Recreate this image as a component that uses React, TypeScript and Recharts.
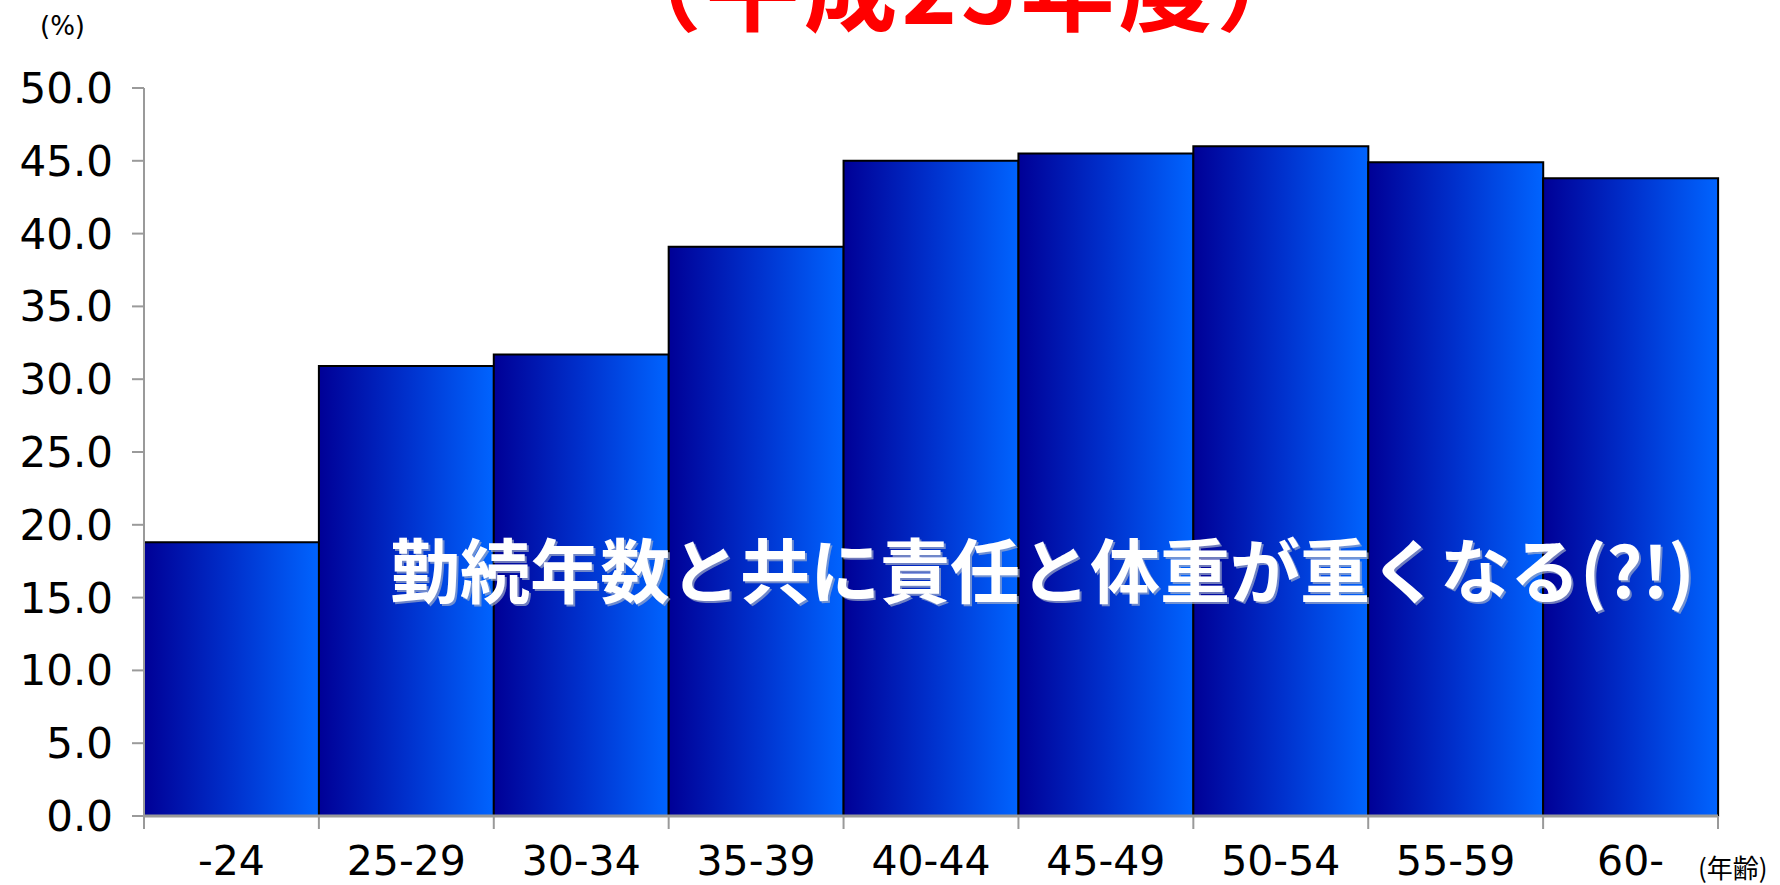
import React from 'react';
import { BarChart, Bar, XAxis, YAxis } from 'recharts';

// age bands (x) and share in percent (y)
const AGE_BANDS: string[] = ['-24', '25-29', '30-34', '35-39', '40-44', '45-49', '50-54', '55-59', '60-'];
const SHARE: number[] = [18.8, 30.9, 31.7, 39.1, 45.0, 45.5, 46.0, 44.9, 43.8];
const Y_TICKS: number[] = [0, 5, 10, 15, 20, 25, 30, 35, 40, 45, 50];

const TITLE = '（平成25年度）';
const NOTE = '勤続年数と共に責任と体重が重くなる(?!)';
const Y_UNIT = '(%)';
const X_UNIT = '(年齢)';

const W = 1780;
const H = 885;
const LEFT = 144;
const RIGHT = 62;
const TOP = 88;
const X_AXIS_H = 69;
const PLOT_BOTTOM = H - X_AXIS_H;
const BAND = (W - LEFT - RIGHT) / AGE_BANDS.length;

const data = AGE_BANDS.map((band, i) => ({ band, share: SHARE[i] }));

const AXIS_GRAY = '#9a9a9a';
const NUM_FONT = '"DejaVu Sans", sans-serif';
const JP_FONT = '"Noto Sans CJK JP", sans-serif';

// category axis tick: boundary tick lines + centred label
const AgeTick = (props: any) => {
    const { x, index, payload } = props;
    const left = x - BAND / 2;
    const last = index === AGE_BANDS.length - 1;
    return (
        <g>
            <line x1={left} x2={left} y1={PLOT_BOTTOM} y2={PLOT_BOTTOM + 13} stroke={AXIS_GRAY} strokeWidth={2} />
            {last && (
                <line x1={left + BAND} x2={left + BAND} y1={PLOT_BOTTOM} y2={PLOT_BOTTOM + 13} stroke={AXIS_GRAY} strokeWidth={2} />
            )}
            <text x={x} y={PLOT_BOTTOM + 59} textAnchor="middle" fontFamily={NUM_FONT} fontSize={41} fill="#000">
                {payload.value}
            </text>
        </g>
    );
};

export default function App() {
    return (
        <div style={{ position: 'absolute', left: 0, top: 0, width: W, height: H, background: '#fff' }}>
            <BarChart
                width={W}
                height={H}
                data={data}
                margin={{ top: TOP, right: RIGHT, bottom: 0, left: 0 }}
                barCategoryGap={0}
            >
                <defs>
                    <linearGradient id="barFill" x1="0" y1="0" x2="1" y2="0">
                        <stop offset="0%" stopColor="#000096" />
                        <stop offset="50%" stopColor="#0030cc" />
                        <stop offset="100%" stopColor="#0064ff" />
                    </linearGradient>
                </defs>
                <XAxis
                    dataKey="band"
                    height={X_AXIS_H}
                    interval={0}
                    tickLine={false}
                    axisLine={{ stroke: AXIS_GRAY, strokeWidth: 3 }}
                    tick={<AgeTick />}
                />
                <YAxis
                    width={LEFT}
                    domain={[0, 50]}
                    ticks={Y_TICKS}
                    interval={0}
                    tickSize={12}
                    tickMargin={19}
                    tickFormatter={(v: number) => v.toFixed(1)}
                    axisLine={{ stroke: AXIS_GRAY, strokeWidth: 2 }}
                    tickLine={{ stroke: AXIS_GRAY, strokeWidth: 2 }}
                    tick={{ fill: '#000', fontSize: 42, fontFamily: NUM_FONT }}
                />
                <Bar dataKey="share" fill="url(#barFill)" stroke="#000" strokeWidth={2} isAnimationActive={false} />
            </BarChart>
            <svg width={W} height={H} style={{ position: 'absolute', left: 0, top: 0, pointerEvents: 'none' }}>
                <text x={961} y={24} textAnchor="middle" fontFamily={JP_FONT} fontWeight={700} fontSize={94} letterSpacing={4} fill="#ff0000">
                    {TITLE}
                </text>
                <text x={40} y={35} fontFamily={NUM_FONT} fontSize={26} fill="#000">
                    {Y_UNIT}
                </text>
                <text x={1698} y={878} fontFamily={JP_FONT} fontSize={26} fill="#000">
                    {X_UNIT}
                </text>
                <text x={392} y={600} fontFamily={JP_FONT} fontWeight={700} fontSize={70} fill="#a0acc8" opacity={0.7}>
                    {NOTE}
                </text>
                <text x={390} y={598} fontFamily={JP_FONT} fontWeight={700} fontSize={70} fill="#fff">
                    {NOTE}
                </text>
            </svg>
        </div>
    );
}
